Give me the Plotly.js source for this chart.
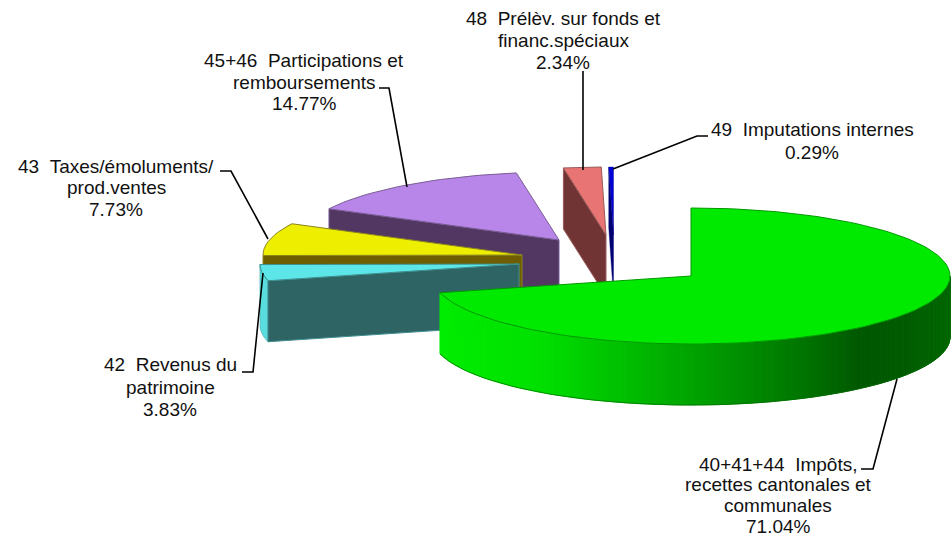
<!DOCTYPE html>
<html>
<head>
<meta charset="utf-8">
<script src="https://cdn.plot.ly/plotly-3.0.1.min.js"></script>
<style>html,body{margin:0;padding:0;background:#fff}#chart{width:952px;height:538px}</style>
</head>
<body>
<div id="chart"></div>
<script>
// ---- data ----
const categories = [
  "40+41+44  Impôts, recettes cantonales et communales",
  "42  Revenus du patrimoine",
  "43  Taxes/émoluments/ prod.ventes",
  "45+46  Participations et remboursements",
  "48  Prélèv. sur fonds et financ.spéciaux",
  "49  Imputations internes"
];
const shares = [71.04, 3.83, 7.73, 14.77, 2.34, 0.29];
const labelLines = [
  ["40+41+44\u00a0\u00a0Impôts,", "recettes cantonales et", "communales"],
  ["42\u00a0\u00a0Revenus du", "patrimoine"],
  ["43\u00a0\u00a0Taxes/émoluments/", "prod.ventes"],
  ["45+46\u00a0\u00a0Participations et", "remboursements"],
  ["48\u00a0\u00a0Prélèv. sur fonds et", "financ.spéciaux"],
  ["49\u00a0\u00a0Imputations internes"]
];

// ---- drawing geometry and style (chart pixels, not data) ----
const RX = 259, RY = 68, DEPTH = 61;
const centerX = [691, 519, 522, 559, 606, 613.5];
const centerY = [276, 264, 255, 240, 235, 235];
const topColor = ["#00ea00", "#5ce6e8", "#eeee00", "#b886e8", "#e87474", "#0000d8"];
const wallColor = ["#00d000", "#2e6464", "#6e5e00", "#533763", "#703434", "#000070"];
const edgeColor = ["#009a00", "#3f8f90", "#8a8420", "#7a5c96", "#9a5a5a", "#000080"];
const edgeWidth = [1, 1, 1, 1, 1, 0.4];
const labelX = [778, 170, 116, 304, 563, 812];
const labelY = [[464, 484, 505, 526], [364, 387, 409], [166, 187, 209], [60, 82, 103], [18, 40, 62], [129, 152]];
const leaderX = [[897, 873, 861], [263, 253, 242], [268, 231, 220], [407, 389, 379], [583, 583], [613, 697, 708]];
const leaderY = [[379, 469, 469], [273, 372, 372], [239, 171, 171], [187, 88, 88], [170, 71], [169, 136, 136]];
const gradX = [430, 540, 600, 700, 800, 860, 900, 955];
const gradG = [238, 224, 200, 160, 118, 88, 90, 104];

// ---- helpers ----
const rad = d => d * Math.PI / 180;
function rim(i, deg) {
  return [centerX[i] + RX * Math.sin(rad(deg)), centerY[i] - RY * Math.cos(rad(deg))];
}
function arc(i, from, to) {
  const n = Math.max(2, Math.ceil(Math.abs(to - from) / 2));
  const pts = [];
  for (let k = 0; k <= n; k++) pts.push(rim(i, from + (to - from) * k / n));
  return pts;
}
function poly(pts, fill, line, width) {
  return {
    type: "scatter", mode: "lines", hoverinfo: "skip", showlegend: false,
    x: pts.map(p => p[0]).concat(pts[0][0]),
    y: pts.map(p => p[1]).concat(pts[0][1]),
    fill: "toself", fillcolor: fill,
    line: { color: line, width: width === undefined ? 1 : width }
  };
}
const drop = p => [p[0], p[1] + DEPTH];
function greenAt(x) {
  for (let k = 1; k < gradX.length; k++) {
    if (x <= gradX[k]) {
      const t = (x - gradX[k - 1]) / (gradX[k] - gradX[k - 1]);
      return Math.round(gradG[k - 1] + (gradG[k] - gradG[k - 1]) * t);
    }
  }
  return gradG[gradG.length - 1];
}

// slice angles, clockwise from the top, from the shares
const total = shares.reduce((a, b) => a + b, 0);
const startA = [], endA = [];
let run = 0;
shares.forEach(v => { startA.push(run / total * 360); run += v; endA.push(run / total * 360); });

const traces = [];
function cutWall(i, deg) {               // radial face going from rim to apex
  const a = rim(i, deg), c = [centerX[i], centerY[i]];
  return poly([a, c, drop(c), drop(a)], wallColor[i], edgeColor[i], edgeWidth[i]);
}
function topFace(i) {
  const pts = arc(i, startA[i], endA[i]);
  pts.push([centerX[i], centerY[i]]);
  return poly(pts, topColor[i], edgeColor[i], edgeWidth[i]);
}

// back to front
[3, 2].forEach(i => { traces.push(cutWall(i, startA[i])); traces.push(topFace(i)); });

// slice 42: outer wall, cut wall, top
{
  const i = 1, a = arc(i, startA[i], endA[i]);
  traces.push(poly(a.concat(a.map(drop).reverse()), "#58dcde", "#58c0c2"));
  traces.push(cutWall(i, startA[i]));
  traces.push(topFace(i));
}
[4, 5].forEach(i => { traces.push(cutWall(i, startA[i])); traces.push(topFace(i)); });

// slice 40+41+44: outer wall with its shading in thin strips, then the top
{
  const i = 0, step = 1;
  for (let d = endA[i]; d > 90; d -= step) {
    const p = rim(i, d), q = rim(i, Math.max(90, d - step));
    const g = greenAt((p[0] + q[0]) / 2);
    const col = "rgb(0," + g + ",0)";
    traces.push(poly([p, q, drop(q), drop(p)], col, col, 1));
  }
  const low = arc(i, 90, endA[i]).map(drop);
  traces.push({
    type: "scatter", mode: "lines", hoverinfo: "skip", showlegend: false,
    x: low.map(p => p[0]), y: low.map(p => p[1]),
    line: { color: "rgba(0,110,0,0.7)", width: 1 }
  });
  traces.push(topFace(i));
}

// leader lines
leaderX.forEach((xs, i) => traces.push({
  type: "scatter", mode: "lines", hoverinfo: "skip", showlegend: false,
  x: xs, y: leaderY[i], line: { color: "#000", width: 1.6 }
}));

// labels: text lines plus the percentage
const annotations = [];
labelLines.forEach((lines, i) => {
  lines.concat(shares[i].toFixed(2) + "%").forEach((txt, k) => annotations.push({
    xref: "x", yref: "y", x: labelX[i], y: labelY[i][k], text: txt,
    showarrow: false, xanchor: "center", yanchor: "middle",
    font: { family: "Liberation Sans, Arial, sans-serif", size: 19, color: "#111" }
  }));
});

const hidden = { visible: false, fixedrange: true };
Plotly.newPlot("chart", traces, {
  width: 952, height: 538,
  margin: { l: 0, r: 0, t: 0, b: 0 },
  paper_bgcolor: "#fff", plot_bgcolor: "#fff",
  showlegend: false,
  xaxis: Object.assign({ range: [0, 952] }, hidden),
  yaxis: Object.assign({ range: [538, 0] }, hidden),
  annotations: annotations
}, { displayModeBar: false, staticPlot: true });
</script>
</body>
</html>
